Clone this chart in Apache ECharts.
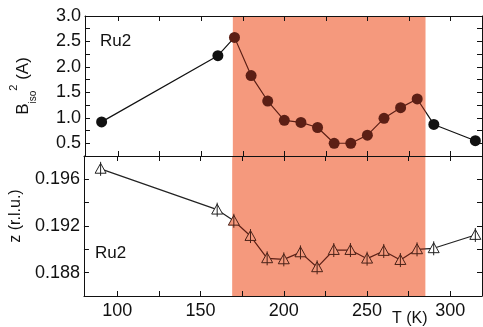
<!DOCTYPE html>
<html>
<head>
<meta charset="utf-8">
<script src="https://cdn.jsdelivr.net/npm/echarts@6/dist/echarts.min.js"></script>
<style>
  html, body { margin: 0; padding: 0; background: #fff; }
  #chart { width: 483px; height: 327px; }
</style>
</head>
<body>
<div id="chart"></div>
<script>
// temperature (K) of each measurement
const temps = [90, 160, 170, 180, 190, 200, 210, 220, 230, 240, 250, 260, 270, 280, 290, 315];
// B_iso^2 (A), upper panel
const bIso = [0.92, 2.22, 2.58, 1.83, 1.33, 0.95, 0.91, 0.81, 0.50, 0.50, 0.66, 0.99, 1.20, 1.37, 0.87, 0.55];
// z (r.l.u.), lower panel, with error bars
const zVals = [0.1969, 0.1934, 0.19245, 0.19114, 0.18923, 0.18914, 0.18974, 0.18846,
  0.18994, 0.18994, 0.18920, 0.18986, 0.18908, 0.19000, 0.19009, 0.19123];
const zErr = [0.0006, 0.0006, 0.0006, 0.0006, 0.0006, 0.0006, 0.0006, 0.0006,
  0.0006, 0.0006, 0.0006, 0.0006, 0.0006, 0.0006, 0.0006, 0.0006];

// shaded temperature window
const shade = [169, 285];

// tick / label values
const xTicks = [100, 125, 150, 175, 200, 225, 250, 275, 300];
const xLabels = [100, 150, 200, 250, 300];
const bTicks = [0.5, 0.75, 1.0, 1.25, 1.5, 1.75, 2.0, 2.25, 2.5, 2.75, 3.0];
const bLabels = [0.5, 1.0, 1.5, 2.0, 2.5, 3.0];
const zTicks = [0.188, 0.190, 0.192, 0.194, 0.196];
const zLabels = [0.188, 0.192, 0.196];

const SALMON = '#F5997D';
const DARK = '#111';
const BROWN = '#5c1f15';
const FONT = 'Liberation Sans, Arial, sans-serif';

const chart = echarts.init(document.getElementById('chart'));

const axisLine = { show: true, lineStyle: { color: '#111', width: 1 } };
const tick = (vals) => ({ show: true, inside: true, length: 5, customValues: vals, lineStyle: { color: '#111' } });
const labelStyle = { color: '#111', fontSize: 18, fontFamily: FONT };

const xBase = { type: 'value', min: 80, max: 319, z: 10, splitLine: { show: false }, axisLine };

const xAxes = [
  { ...xBase, gridIndex: 0, position: 'bottom', axisTick: tick(xTicks), axisLabel: { show: false } },
  { ...xBase, gridIndex: 0, position: 'top', axisTick: tick(xTicks), axisLabel: { show: false } },
  {
    ...xBase, gridIndex: 1, position: 'bottom', axisTick: tick(xTicks),
    axisLabel: { ...labelStyle, margin: 6, customValues: xLabels }
  },
  { ...xBase, gridIndex: 1, position: 'top', axisTick: tick(xTicks), axisLabel: { show: false } }
];

const yAxes = [
  {
    type: 'value', gridIndex: 0, position: 'left', min: 0.25, max: 3.0, z: 10,
    splitLine: { show: false }, axisLine, axisTick: tick(bTicks),
    axisLabel: { ...labelStyle, margin: 4, customValues: bLabels, formatter: (v) => v.toFixed(1) },
    name: '{b|B}{sub|iso}{sup|2}{n| (A)}',
    nameLocation: 'middle', nameRotate: 90, nameGap: 51,
    nameTextStyle: {
      color: '#111', fontFamily: FONT, fontSize: 16,
      rich: {
        b: { fontSize: 17, fontFamily: FONT, color: '#111', lineHeight: 22, verticalAlign: 'middle' },
        sub: { fontSize: 10, fontFamily: FONT, color: '#111', lineHeight: 22, verticalAlign: 'bottom', padding: [0, 0, -4, 0] },
        sup: { fontSize: 11, fontFamily: FONT, color: '#111', lineHeight: 22, verticalAlign: 'top', padding: [-4, 0, 0, 0] },
        n: { fontSize: 17, fontFamily: FONT, color: '#111', lineHeight: 22, verticalAlign: 'middle' }
      }
    }
  },
  {
    type: 'value', gridIndex: 0, position: 'right', min: 0.25, max: 3.0, z: 10,
    splitLine: { show: false }, axisLine, axisTick: tick(bTicks), axisLabel: { show: false }
  },
  {
    type: 'value', gridIndex: 1, position: 'left', min: 0.186, max: 0.198, z: 10,
    splitLine: { show: false }, axisLine, axisTick: tick(zTicks),
    axisLabel: { ...labelStyle, margin: 4, customValues: zLabels, formatter: (v) => v.toFixed(3) },
    name: 'z (r.l.u.)',
    nameLocation: 'middle', nameRotate: 90, nameGap: 56,
    nameTextStyle: { color: '#111', fontFamily: FONT, fontSize: 16, padding: [0, 0, 0, 20] }
  },
  {
    type: 'value', gridIndex: 1, position: 'right', min: 0.186, max: 0.198, z: 10,
    splitLine: { show: false }, axisLine, axisTick: tick(zTicks), axisLabel: { show: false }
  }
];

const topData = temps.map((t, i) => [t, bIso[i]]);
const botData = temps.map((t, i) => [t, zVals[i], zErr[i]]);
const shadeArea = [[{ xAxis: shade[0] }, { xAxis: shade[1] }]];

chart.setOption({
  animation: false,
  grid: [
    { left: 83, right: 1, top: 16, height: 140 },
    { left: 83, right: 1, top: 156, height: 140 }
  ],
  xAxis: xAxes,
  yAxis: yAxes,
  visualMap: [0, 2].map((si) => ({
    type: 'piecewise', show: false, dimension: 0, seriesIndex: si,
    pieces: [
      { lt: shade[0], color: si === 0 ? DARK : '#222' },
      { gte: shade[0], lte: shade[1], color: BROWN },
      { gt: shade[1], color: si === 0 ? DARK : '#222' }
    ]
  })),
  series: [
    {
      type: 'line', xAxisIndex: 0, yAxisIndex: 0, z: 3, data: topData,
      symbol: 'circle', symbolSize: 11, lineStyle: { width: 1.2 }
    },
    {
      type: 'line', xAxisIndex: 0, yAxisIndex: 0, z: 1, data: topData,
      symbol: 'none', lineStyle: { opacity: 0 },
      markArea: { silent: true, itemStyle: { color: SALMON }, data: shadeArea }
    },
    {
      type: 'line', xAxisIndex: 2, yAxisIndex: 2, z: 3, data: botData,
      symbol: 'none', lineStyle: { width: 1.2 }
    },
    {
      type: 'line', xAxisIndex: 2, yAxisIndex: 2, z: 1, data: botData,
      symbol: 'none', lineStyle: { opacity: 0 },
      markArea: { silent: true, itemStyle: { color: SALMON }, data: shadeArea }
    },
    {
      type: 'custom', xAxisIndex: 2, yAxisIndex: 2, z: 4, data: botData,
      renderItem: (params, api) => {
        const x = api.value(0), y = api.value(1), e = api.value(2);
        const p = api.coord([x, y]);
        const hi = api.coord([x, y + e]);
        const lo = api.coord([x, y - e]);
        const inside = x >= shade[0] && x <= shade[1];
        const stroke = inside ? '#4a2218' : '#222';
        const fill = inside ? SALMON : '#fff';
        const s = 5.5;
        return {
          type: 'group',
          children: [
            {
              type: 'polygon',
              shape: { points: [[p[0], p[1] - s], [p[0] + s, p[1] + s * 0.8], [p[0] - s, p[1] + s * 0.8]] },
              style: { fill, stroke, lineWidth: 1 }
            },
            {
              type: 'line',
              shape: { x1: p[0], y1: hi[1], x2: p[0], y2: lo[1] },
              style: { stroke, lineWidth: 1 }
            }
          ]
        };
      }
    }
  ],
  graphic: [
    { type: 'text', left: 100, top: 33, z: 20, style: { text: 'Ru2', fontSize: 17, fontFamily: FONT, fill: '#111' } },
    { type: 'text', left: 95, top: 245, z: 20, style: { text: 'Ru2', fontSize: 17, fontFamily: FONT, fill: '#111' } },
    { type: 'text', left: 392, top: 311, z: 20, style: { text: 'T (K)', fontSize: 16, fontFamily: FONT, fill: '#111' } }
  ]
});
</script>
</body>
</html>
